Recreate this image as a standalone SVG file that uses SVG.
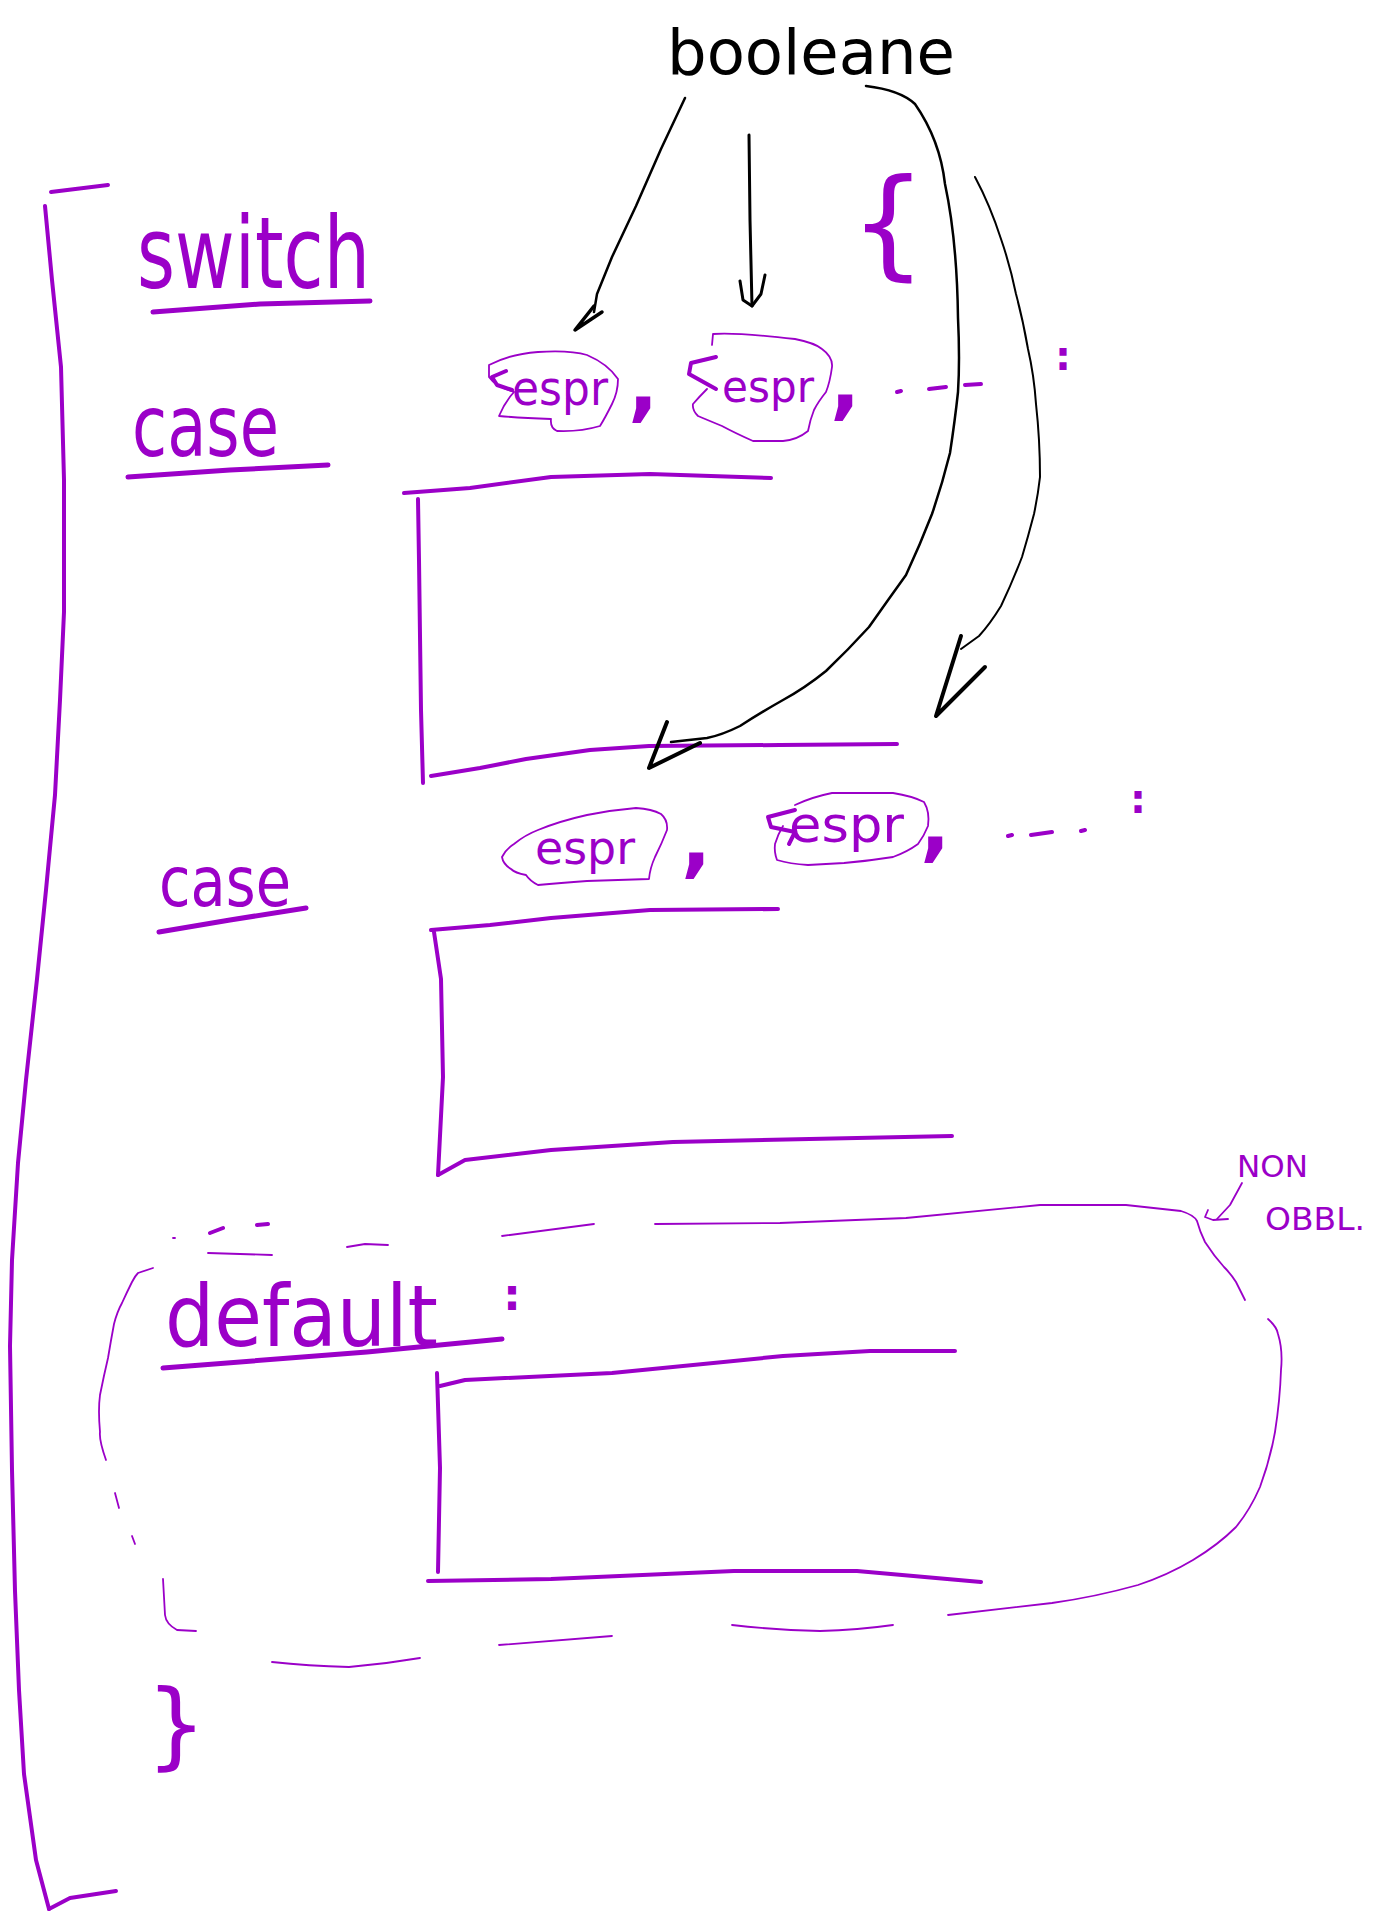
<svg xmlns="http://www.w3.org/2000/svg" width="1395" height="1918" viewBox="0 0 1395 1918">
<style>
.p{fill:none;stroke:#9b00c8;stroke-linecap:round;stroke-linejoin:round}
.k{fill:none;stroke:#000;stroke-linecap:round;stroke-linejoin:round}
.t{fill:#9b00c8;font-family:"DejaVu Sans",sans-serif}
.tk{fill:#000;font-family:"DejaVu Sans",sans-serif}
.thick{stroke-width:5}
.mid{stroke-width:4}
.thin{stroke-width:1.8}
</style>
<rect width="1395" height="1918" fill="#fff"/>

<g id="bracket">
<path class="p mid" d="M51,192 L108,185"/>
<path class="p mid" d="M45,206 L52,280 L61,367 L64,480 L64,612 L60,700 L55,795 L46,890 L37,979 L26,1080 L18,1163 L12,1260 L10,1346 L12,1470 L15,1591 L19,1690 L24,1774 L36,1860 L49,1909"/>
<path class="p mid" d="M49,1909 L70,1898 L116,1891"/>
</g>

<g id="booleane">
<text class="tk" x="667" y="74" font-size="62" textLength="288" lengthAdjust="spacingAndGlyphs">booleane</text>
</g>

<g id="switch">
<text class="t" x="137" y="288" font-size="100" textLength="233" lengthAdjust="spacingAndGlyphs">switch</text>
<path class="p thick" d="M153,312 L260,304 L370,301"/>
</g>

<g id="case1">
<text class="t" x="132" y="456" font-size="85" textLength="147" lengthAdjust="spacingAndGlyphs">case</text>
<path class="p thick" d="M128,477 L230,470 L328,465"/>
</g>

<g id="brace-open">
<text class="t" x="850" y="264" font-size="120">{</text>
</g>

<g id="expr-row1">
<path class="p thin" d="M489,365 Q510,354 538,352 Q570,350 587,355 Q608,364 618,379 Q618,392 612,404 Q605,418 600,426 Q580,432 557,431 Q550,428 551,419 Q520,418 499,416 Q505,402 514,392 Q495,386 489,377 Z"/>
<path class="p mid" d="M506,371 L492,377 L497,385 L512,390"/>
<text class="t" x="512" y="405" font-size="48" textLength="96" lengthAdjust="spacingAndGlyphs">espr</text>
<text class="t" x="628" y="412" font-size="80" font-weight="bold">,</text>
<path class="p thin" d="M712,345 L713,334 Q734,332 795,339 Q815,343 822,349 Q833,357 832,367 Q830,382 826,392 Q818,402 814,410 Q810,420 808,431 Q797,440 783,441 L753,441 Q735,433 722,426 Q705,419 698,416 Q692,410 693,404 Q700,396 707,389"/>
<path class="p mid" d="M716,357 L691,363 L689,374 L716,389"/>
<text class="t" x="722" y="402" font-size="44" textLength="92" lengthAdjust="spacingAndGlyphs">espr</text>
<text class="t" x="830" y="410" font-size="80" font-weight="bold">,</text>
<path class="p mid" d="M897,392 L901,391 M929,389 L946,387 M965,385 L981,384"/>
<text class="t" x="1055" y="370" font-size="40" font-weight="bold">:</text>
</g>

<g id="block1">
<path class="p mid" d="M404,493 L470,488 L551,477 L650,474 L771,478"/>
<path class="p mid" d="M418,499 L419,560 L420,636 L421,710 L423,783"/>
<path class="p mid" d="M431,776 L480,768 L526,759 L590,750 L649,746 L780,745 L897,744"/>
</g>

<g id="case2">
<text class="t" x="159" y="906" font-size="70" textLength="132" lengthAdjust="spacingAndGlyphs">case</text>
<path class="p thick" d="M159,932 L230,920 L306,908"/>
</g>

<g id="expr-row2">
<path class="p thin" d="M514,844 Q525,835 538,830 Q560,821 587,815 Q612,810 636,808 Q652,809 661,814 Q668,820 667,830 Q662,843 655,857 Q650,868 649,879 Q618,880 587,881 Q560,883 538,885 Q530,881 526,875 Q515,873 511,869 Q503,864 502,857 Q506,849 514,844 Z"/>
<text class="t" x="535" y="864" font-size="46" textLength="100" lengthAdjust="spacingAndGlyphs">espr</text>
<text class="t" x="681" y="868" font-size="80" font-weight="bold">,</text>
<path class="p thin" d="M795,805 Q812,797 832,793 L893,793 Q912,796 924,802 Q930,812 928,826 Q924,836 918,844 Q907,852 893,857 Q868,861 844,863 L808,865 Q790,864 777,860 Q774,852 775,844 Q778,834 783,826"/>
<path class="p mid" d="M795,810 L768,817 L771,827 L795,832 L789,844"/>
<text class="t" x="789" y="842" font-size="50" textLength="115" lengthAdjust="spacingAndGlyphs">espr</text>
<text class="t" x="920" y="852" font-size="80" font-weight="bold">,</text>
<path class="p mid" d="M1008,836 L1012,835 M1031,835 L1052,832 M1081,831 L1085,830"/>
<text class="t" x="1130" y="813" font-size="40" font-weight="bold">:</text>
</g>

<g id="block2">
<path class="p mid" d="M431,930 L490,925 L551,918 L650,910 L778,909"/>
<path class="p mid" d="M434,932 L441,979 L443,1077 L438,1175"/>
<path class="p mid" d="M438,1175 L465,1160 L551,1150 L673,1142 L952,1136"/>
</g>

<g id="default">
<text class="t" x="165" y="1346" font-size="86" textLength="273" lengthAdjust="spacingAndGlyphs">default</text>
<path class="p thick" d="M163,1368 L367,1352 L502,1339"/>
<text class="t" x="503" y="1310" font-size="45" font-weight="bold">:</text>
</g>

<g id="block3">
<path class="p mid" d="M440,1386 L465,1380 L612,1373 L783,1356 L870,1351 L955,1351"/>
<path class="p mid" d="M437,1373 L440,1468 L438,1572"/>
<path class="p mid" d="M428,1581 L551,1579 L734,1571 L857,1571 L981,1582"/>
</g>

<g id="optional-outline">
<path class="p thin" d="M173,1238 L175,1238"/>
<path class="p mid" d="M210,1233 L223,1228 M257,1225 L268,1224"/>
<path class="p thin" d="M208,1253 L272,1255"/>
<path class="p thin" d="M347,1247 L365,1244 L388,1245"/>
<path class="p thin" d="M502,1236 L594,1224"/>
<path class="p thin" d="M655,1224 L780,1223 L906,1218 L1040,1205 L1126,1205 L1181,1211 Q1194,1215 1197,1221 Q1200,1232 1205,1242 Q1214,1256 1224,1267 Q1231,1274 1236,1282 L1245,1300"/>
<path class="p thin" d="M1268,1319 Q1277,1327 1278,1334 Q1283,1350 1281,1370 Q1280,1400 1275,1432 Q1270,1460 1260,1487 Q1250,1510 1236,1527 Q1218,1545 1193,1560 Q1168,1575 1138,1585 Q1095,1597 1052,1603 L948,1615"/>
<path class="p thin" d="M893,1625 Q858,1630 820,1631 Q775,1630 732,1625"/>
<path class="p thin" d="M612,1636 L499,1645"/>
<path class="p thin" d="M420,1658 Q385,1664 349,1667 Q308,1666 272,1662"/>
<path class="p thin" d="M196,1631 L177,1630 Q166,1624 165,1615 L163,1579"/>
<path class="p thin" d="M132,1536 L135,1544 M115,1493 L119,1508"/>
<path class="p thin" d="M106,1460 Q99,1440 100,1432 Q98,1410 100,1395 Q104,1375 108,1358 Q111,1340 114,1324 Q117,1312 122,1303 Q127,1292 132,1282 Q135,1276 138,1273 L153,1268"/>
</g>

<g id="note-non-obbl">
<text class="t" x="1237" y="1177" font-size="30" textLength="71" lengthAdjust="spacingAndGlyphs">NON</text>
<text class="t" x="1265" y="1230" font-size="32" textLength="100" lengthAdjust="spacingAndGlyphs">OBBL.</text>
<path class="p thin" d="M1242,1183 L1230,1205 L1217,1219"/>
<path class="p thin" d="M1208,1210 L1205,1217 L1213,1220 L1228,1219"/>
</g>

<g id="brace-close">
<text class="t" x="146" y="1757" font-size="95">}</text>
</g>

<g id="connectors">
<path class="k" stroke-width="2.5" d="M685,98 L661,149 L636,206 L612,257 L597,294 L594,312"/>
<path class="k" stroke-width="3.5" d="M594,306 L575,330 L602,312"/>
<path class="k" stroke-width="3" d="M749,135 L750,220 L752,306"/>
<path class="k" stroke-width="3" d="M740,281 L743,300 L752,306 L761,294 L765,275"/>
<path class="k" stroke-width="2.5" d="M866,86 Q900,90 915,104 Q940,140 945,184 Q957,240 958,318 Q960,360 958,392 Q955,420 950,453 Q942,485 932,514 Q920,545 906,575 Q888,600 869,627 Q848,650 826,671 Q805,688 783,700 Q760,713 740,726 Q722,735 707,738 L671,742"/>
<path class="k" stroke-width="4" d="M667,722 L649,768 L700,743"/>
<path class="k" stroke-width="2" d="M975,177 Q990,205 1001,239 Q1010,265 1016,294 Q1023,320 1028,349 Q1034,375 1036,404 Q1040,440 1040,477 Q1038,495 1034,514 Q1028,537 1022,557 Q1012,583 1001,606 Q990,624 979,636 L961,649"/>
<path class="k" stroke-width="4" d="M961,636 L936,716 M936,716 L985,667"/>
</g>
</svg>
